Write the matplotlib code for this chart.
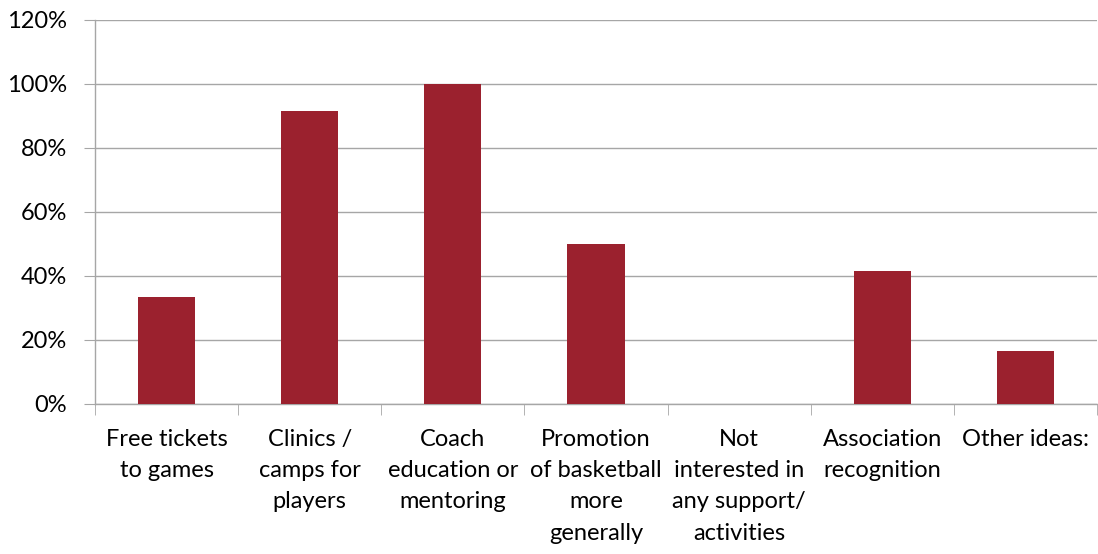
import matplotlib
matplotlib.use("Agg")
import matplotlib.pyplot as plt
import numpy as np
from matplotlib.ticker import FuncFormatter, FixedLocator

categories = ["Free tickets\nto games", "Clinics /\ncamps for\nplayers", "Coach\neducation or\nmentoring",
              "Promotion\nof basketball\nmore\ngenerally", "Not\ninterested in\nany support/\nactivities",
              "Association\nrecognition", "Other ideas:"]
values = [33.3, 91.7, 100.0, 50.0, 0.0, 41.7, 16.7]
yticks = [0, 20, 40, 60, 80, 100, 120]

plt.rcParams['font.family'] = ['Lato', 'DejaVu Sans']
fig = plt.figure(figsize=(10.98, 5.54), dpi=100)
ax = fig.add_axes([95/1098, 1-404/554, (1097-95)/1098, (404-20)/554])

x = np.arange(len(categories))
ax.bar(x, values, width=0.4, color='#9B212E', zorder=3)
ax.set_xlim(-0.5, len(categories)-0.5)
ax.set_ylim(0, 120)
ax.set_yticks(yticks)
ax.yaxis.set_major_formatter(FuncFormatter(lambda v, p: f"{int(v)}%"))
ax.grid(axis='y', color='#A6A6A6', linewidth=1, zorder=0)
for s in ['top', 'right']:
    ax.spines[s].set_visible(False)
for s in ['left', 'bottom']:
    ax.spines[s].set_color('#A6A6A6')
    ax.spines[s].set_linewidth(1)
ax.tick_params(axis='y', length=8, color='#A6A6A6', labelsize=17, pad=12)
ax.set_xticks(x)
ax.set_xticklabels(categories, fontsize=17, linespacing=1.6, va='top')
ax.tick_params(axis='x', which='major', length=0, pad=18, labelsize=17)
ax.xaxis.set_minor_locator(FixedLocator(np.arange(-0.5, len(categories), 1.0)))
ax.tick_params(axis='x', which='minor', length=8, color='#A6A6A6')
fig.savefig("out.png", dpi=100)
